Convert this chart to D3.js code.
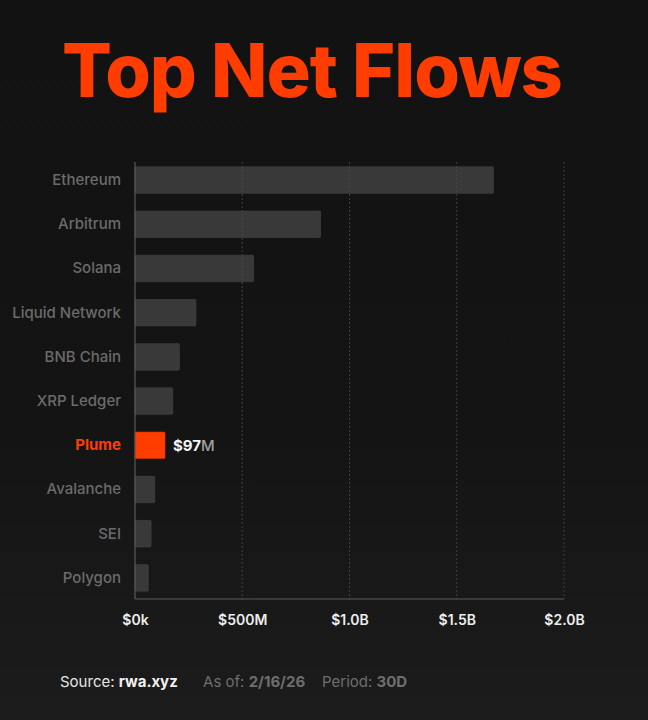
<!DOCTYPE html>
<html>
<head>
<meta charset="utf-8">
<script src="https://cdn.jsdelivr.net/npm/d3@7"></script>
<style>
  html, body { margin: 0; padding: 0; background: #121212; }
  svg { display: block; }
</style>
</head>
<body>
<svg id="chart" width="648" height="720"></svg>
<script>
// chains and net flows (USD millions)
const chains = ["Ethereum", "Arbitrum", "Solana", "Liquid Network", "BNB Chain",
  "XRP Ledger", "Plume", "Avalanche", "SEI", "Polygon"];
const flows = [1671, 865, 553, 284, 207, 176, 140, 92, 75, 62];
const highlight = "Plume";
const highlightLabel = ["$97", "M"];
const xTicks = [0, 500, 1000, 1500, 2000];
const xTickLabels = ["$0k", "$500M", "$1.0B", "$1.5B", "$2.0B"];
const footer = [
  {text: "Source: ", bold: false, color: "#e6e6e6"},
  {text: "rwa.xyz", bold: true, color: "#f2f2f2"},
  {text: "      As of: ", bold: false, color: "#6e6e6e"},
  {text: "2/16/26", bold: true, color: "#6e6e6e"},
  {text: "    Period: ", bold: false, color: "#6e6e6e"},
  {text: "30D", bold: true, color: "#6e6e6e"}
];

const data = chains.map((c, i) => ({chain: c, value: flows[i]}));

const W = 648, H = 720;
const orange = "#ff3d00";
const font = "Inter, 'Open Sans', sans-serif";

const svg = d3.select("#chart");

// background
const defs = svg.append("defs");
const grad = defs.append("linearGradient").attr("id", "bg")
  .attr("x1", 0).attr("y1", 0).attr("x2", 0).attr("y2", 1);
grad.append("stop").attr("offset", "0%").attr("stop-color", "#121212");
grad.append("stop").attr("offset", "60%").attr("stop-color", "#141414");
grad.append("stop").attr("offset", "100%").attr("stop-color", "#1c1c1c");
svg.append("rect").attr("width", W).attr("height", H).attr("fill", "url(#bg)");

// title
const title = svg.append("text")
  .attr("x", 62).attr("y", 97)
  .attr("fill", orange)
  .attr("font-family", font)
  .attr("font-weight", 800)
  .attr("font-size", 74)
  .attr("letter-spacing", -1)
  .text("Top Net Flows");
// fit title to its width in the reference
const tw = title.node().getComputedTextLength();
title.attr("font-size", 74 * 500 / tw);

// scales
const x = d3.scaleLinear().domain([0, 2000]).range([135, 564]);
const y = d3.scaleBand().domain(chains).range([158, 600])
  .paddingInner(0.4).paddingOuter(0.2);

const plotTop = 162, plotBottom = 599;

// bars
svg.append("g").selectAll("rect")
  .data(data)
  .join("rect")
  .attr("x", x(0))
  .attr("y", d => y(d.chain))
  .attr("width", d => x(d.value) - x(0))
  .attr("height", y.bandwidth())
  .attr("rx", 1)
  .attr("fill", d => d.chain === highlight ? orange : "#393939")
  .attr("stroke", d => d.chain === highlight ? "#d93400" : "#444")
  .attr("stroke-width", 0.6);

// dotted gridlines (drawn over bars)
svg.append("g").selectAll("line")
  .data(xTicks.slice(1))
  .join("line")
  .attr("x1", d => x(d)).attr("x2", d => x(d))
  .attr("y1", plotTop).attr("y2", plotBottom)
  .attr("stroke", "#4a4a4a")
  .attr("stroke-opacity", 0.8)
  .attr("stroke-width", 1)
  .attr("stroke-dasharray", "2,2");

// axis lines
svg.append("line")
  .attr("x1", x(0)).attr("x2", x(0))
  .attr("y1", plotTop).attr("y2", plotBottom)
  .attr("stroke", "#5a5a5a").attr("stroke-width", 1.2);
svg.append("line")
  .attr("x1", x(0)).attr("x2", x(2000))
  .attr("y1", plotBottom).attr("y2", plotBottom)
  .attr("stroke", "#5a5a5a").attr("stroke-width", 1.2);

// x axis labels
const xAxis = d3.axisBottom(x)
  .tickValues(xTicks)
  .tickFormat((d, i) => xTickLabels[i])
  .tickSize(0)
  .tickPadding(16);
const gx = svg.append("g")
  .attr("transform", `translate(0,${plotBottom})`)
  .call(xAxis);
gx.select(".domain").remove();
gx.selectAll("text")
  .attr("fill", "#ededed")
  .attr("font-family", font)
  .attr("font-weight", 600)
  .attr("font-size", 14);

// y axis labels
const yAxis = d3.axisLeft(y).tickSize(0).tickPadding(14);
const gy = svg.append("g")
  .attr("transform", `translate(${x(0)},0)`)
  .call(yAxis);
gy.select(".domain").remove();
gy.selectAll("text")
  .attr("fill", d => d === highlight ? orange : "#6b6b6b")
  .attr("font-family", font)
  .attr("font-weight", d => d === highlight ? 700 : 500)
  .attr("font-size", 15);

// value label for highlighted bar
const hd = data.find(d => d.chain === highlight);
const vl = svg.append("text")
  .attr("x", x(hd.value) + 8)
  .attr("y", y(hd.chain) + y.bandwidth() / 2)
  .attr("dy", "0.35em")
  .attr("font-family", font)
  .attr("font-size", 15);
vl.append("tspan").attr("fill", "#f5f5f5").attr("font-weight", 700).text(highlightLabel[0]);
vl.append("tspan").attr("fill", "#a0a0a0").attr("font-weight", 500).text(highlightLabel[1]);

// footer
const ft = svg.append("text")
  .attr("x", 60).attr("y", 687)
  .attr("font-family", font)
  .attr("font-size", 15)
  .attr("xml:space", "preserve")
  .style("white-space", "pre");
ft.selectAll("tspan")
  .data(footer)
  .join("tspan")
  .attr("fill", d => d.color)
  .attr("font-weight", d => d.bold ? 700 : 400)
  .text(d => d.text);
</script>
</body>
</html>
